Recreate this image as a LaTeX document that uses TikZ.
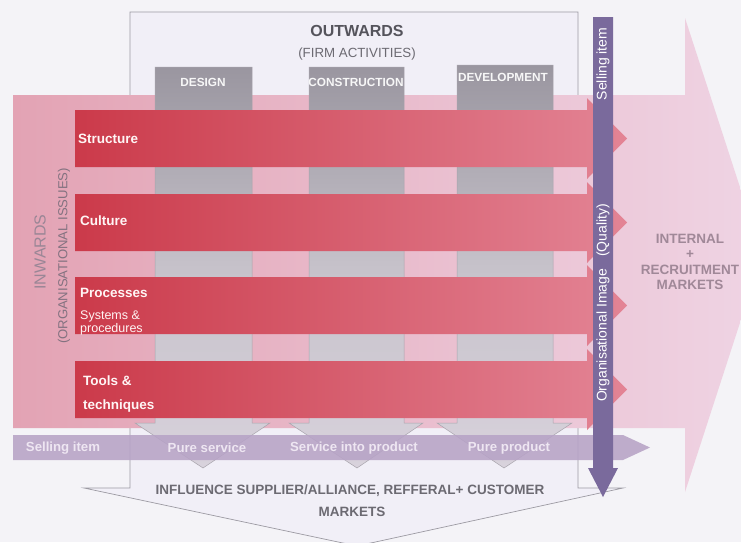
\documentclass[tikz,border=0pt]{standalone}
\usepackage{fontspec}
\setmainfont{Liberation Sans}
\definecolor{bgc}{HTML}{F4F3F7}
\definecolor{framefill}{HTML}{F1EFF7}
\definecolor{framec}{HTML}{9C9AA2}
\definecolor{pinkL}{HTML}{E3A3B4}
\definecolor{pinkR}{HTML}{EFD4E4}
\definecolor{colT}{HTML}{9A96A0}
\definecolor{colB}{HTML}{D8D2DC}
\definecolor{colM}{HTML}{C6C2CA}
\definecolor{colline}{HTML}{A8A4AC}
\definecolor{redL}{HTML}{CB3A4A}
\definecolor{redR}{HTML}{E38495}
\definecolor{sellc}{HTML}{B7A3C6}
\definecolor{purp}{HTML}{7A6A9C}
\definecolor{darktxt}{HTML}{55545C}
\definecolor{greytxt}{HTML}{6C6A72}
\definecolor{inwtxt}{HTML}{9A8696}
\definecolor{inttxt}{HTML}{A08898}
\definecolor{selltxt}{HTML}{EEE6F2}
\begin{document}
\begin{tikzpicture}[x=1pt,y=-1pt,
  barlbl/.style={font=\fontsize{13.5}{16}\selectfont\bfseries, text=white!96!red, anchor=west, inner sep=0pt},
  collbl/.style={font=\fontsize{11.8}{14}\selectfont\bfseries, text=white!94!gray, inner sep=0pt},
  selllbl/.style={font=\fontsize{13.2}{16}\selectfont\bfseries, text=selltxt, inner sep=0pt},
  vertlbl/.style={font=\fontsize{14}{16}\selectfont, text=white, inner sep=0pt, rotate=90},
  colarrow/.style={top color=colT, bottom color=colB, middle color=colM},
  colout/.style={draw=colline, line width=0.5pt},
  redbar/.style={left color=redL, right color=redR},
]
\fill[bgc] (0,0) rectangle (741,542);
\useasboundingbox (0,0) rectangle (741,542);

% outward frame (down arrow outline)
\draw[framec, fill=framefill, line width=0.7pt]
  (130,12) -- (578,12) -- (578,488) -- (623,488) -- (357,546) -- (84,488) -- (130,488) -- cycle;

% big pink arrow to the right
\shade[left color=pinkL, right color=pinkR]
  (13,95) -- (685,95) -- (685,18) -- (762,255) -- (685,492) -- (685,428) -- (13,428) -- cycle;

% grey activity columns (down arrows)
\shade[colarrow] (155,67) -- (252,67) -- (252,423) -- (270,423) -- (203,468) -- (135,423) -- (155,423) -- cycle;
\shade[colarrow] (309,67) -- (404,67) -- (404,423) -- (423,423) -- (357,468) -- (289,423) -- (309,423) -- cycle;
\shade[colarrow] (457,65) -- (553,65) -- (553,423) -- (572,423) -- (504,468) -- (437,423) -- (457,423) -- cycle;
\draw[colout] (155,67) -- (252,67) -- (252,423) -- (270,423) -- (203,468) -- (135,423) -- (155,423) -- cycle;
\draw[colout] (309,67) -- (404,67) -- (404,423) -- (423,423) -- (357,468) -- (289,423) -- (309,423) -- cycle;
\draw[colout] (457,65) -- (553,65) -- (553,423) -- (572,423) -- (504,468) -- (437,423) -- (457,423) -- cycle;

% red organisational bars
\shade[redbar] (75,110) -- (587,110) -- (587,98) -- (627,138.5) -- (587,179) -- (587,167) -- (75,167) -- cycle;
\shade[redbar] (75,194) -- (587,194) -- (587,182) -- (627,222.5) -- (587,263) -- (587,251) -- (75,251) -- cycle;
\shade[redbar] (75,277) -- (587,277) -- (587,265) -- (627,305.5) -- (587,346) -- (587,334) -- (75,334) -- cycle;
\shade[redbar] (75,361) -- (587,361) -- (587,349) -- (627,389.5) -- (587,430) -- (587,418) -- (75,418) -- cycle;

% selling item bar
\fill[sellc, opacity=0.88] (13,435) -- (623,435) -- (650,447.5) -- (623,460) -- (13,460) -- cycle;

% vertical purple arrow
\fill[purp] (593,17) -- (613,17) -- (613,468) -- (618,468) -- (603,497) -- (588,468) -- (593,468) -- cycle;

% texts
\node[font=\fontsize{16}{18}\selectfont\bfseries, text=darktxt] (outw) at (357,31) {OUTWARDS};
\node[font=\fontsize{13.3}{15}\selectfont, text=greytxt] (firm) at (357,54) {(FIRM ACTIVITIES)};
\node[collbl] (design) at (203,82) {DESIGN};
\node[collbl] (constr) at (356,82) {CONSTRUCTION};
\node[collbl] (devel) at (503,77) {DEVELOPMENT};

\node[font=\fontsize{16}{18}\selectfont, text=inwtxt, rotate=90] (inw) at (40,252) {INWARDS};
\node[font=\fontsize{13.1}{15}\selectfont, text=inwtxt!85!black, rotate=90] (orgiss) at (64,256) {(ORGANISATIONAL ISSUES)};

\node[barlbl] (struct) at (78,139) {Structure};
\node[barlbl] (cult) at (80,221) {Culture};
\node[barlbl] (proc) at (80,293) {Processes};
\node[font=\fontsize{12.5}{10}\selectfont, text=white!82!pink, anchor=west, inner sep=0pt, align=left] (sysproc) at (80,323) {Systems \&\\procedures};
\node[barlbl] (tools) at (83,381) {Tools \&};
\node[barlbl] (techn) at (83,406) {techniques};

\node[selllbl] (sellh) at (63,448) {Selling item};
\node[selllbl] (pserv) at (207,448) {Pure service};
\node[selllbl] (sip) at (354,448) {Service into product};
\node[selllbl] (pprod) at (509,448) {Pure product};

\node[vertlbl] (sellv) at (603,64) {Selling item};
\node[vertlbl] (orgimg) at (603,303) {Organisational Image\hspace{12pt}(Quality)};

\node[font=\fontsize{13.5}{15.5}\selectfont\bfseries, text=inttxt, align=center, inner sep=0pt] (intern) at (690,262) {INTERNAL\\+\\RECRUITMENT\\MARKETS};

\node[font=\fontsize{13.5}{15}\selectfont\bfseries, text=greytxt, inner sep=0pt] (infl) at (350,491) {INFLUENCE SUPPLIER/ALLIANCE, REFFERAL+ CUSTOMER};
\node[font=\fontsize{13.5}{15}\selectfont\bfseries, text=greytxt, inner sep=0pt] (mkts) at (352,512) {MARKETS};
\end{tikzpicture}
\end{document}
